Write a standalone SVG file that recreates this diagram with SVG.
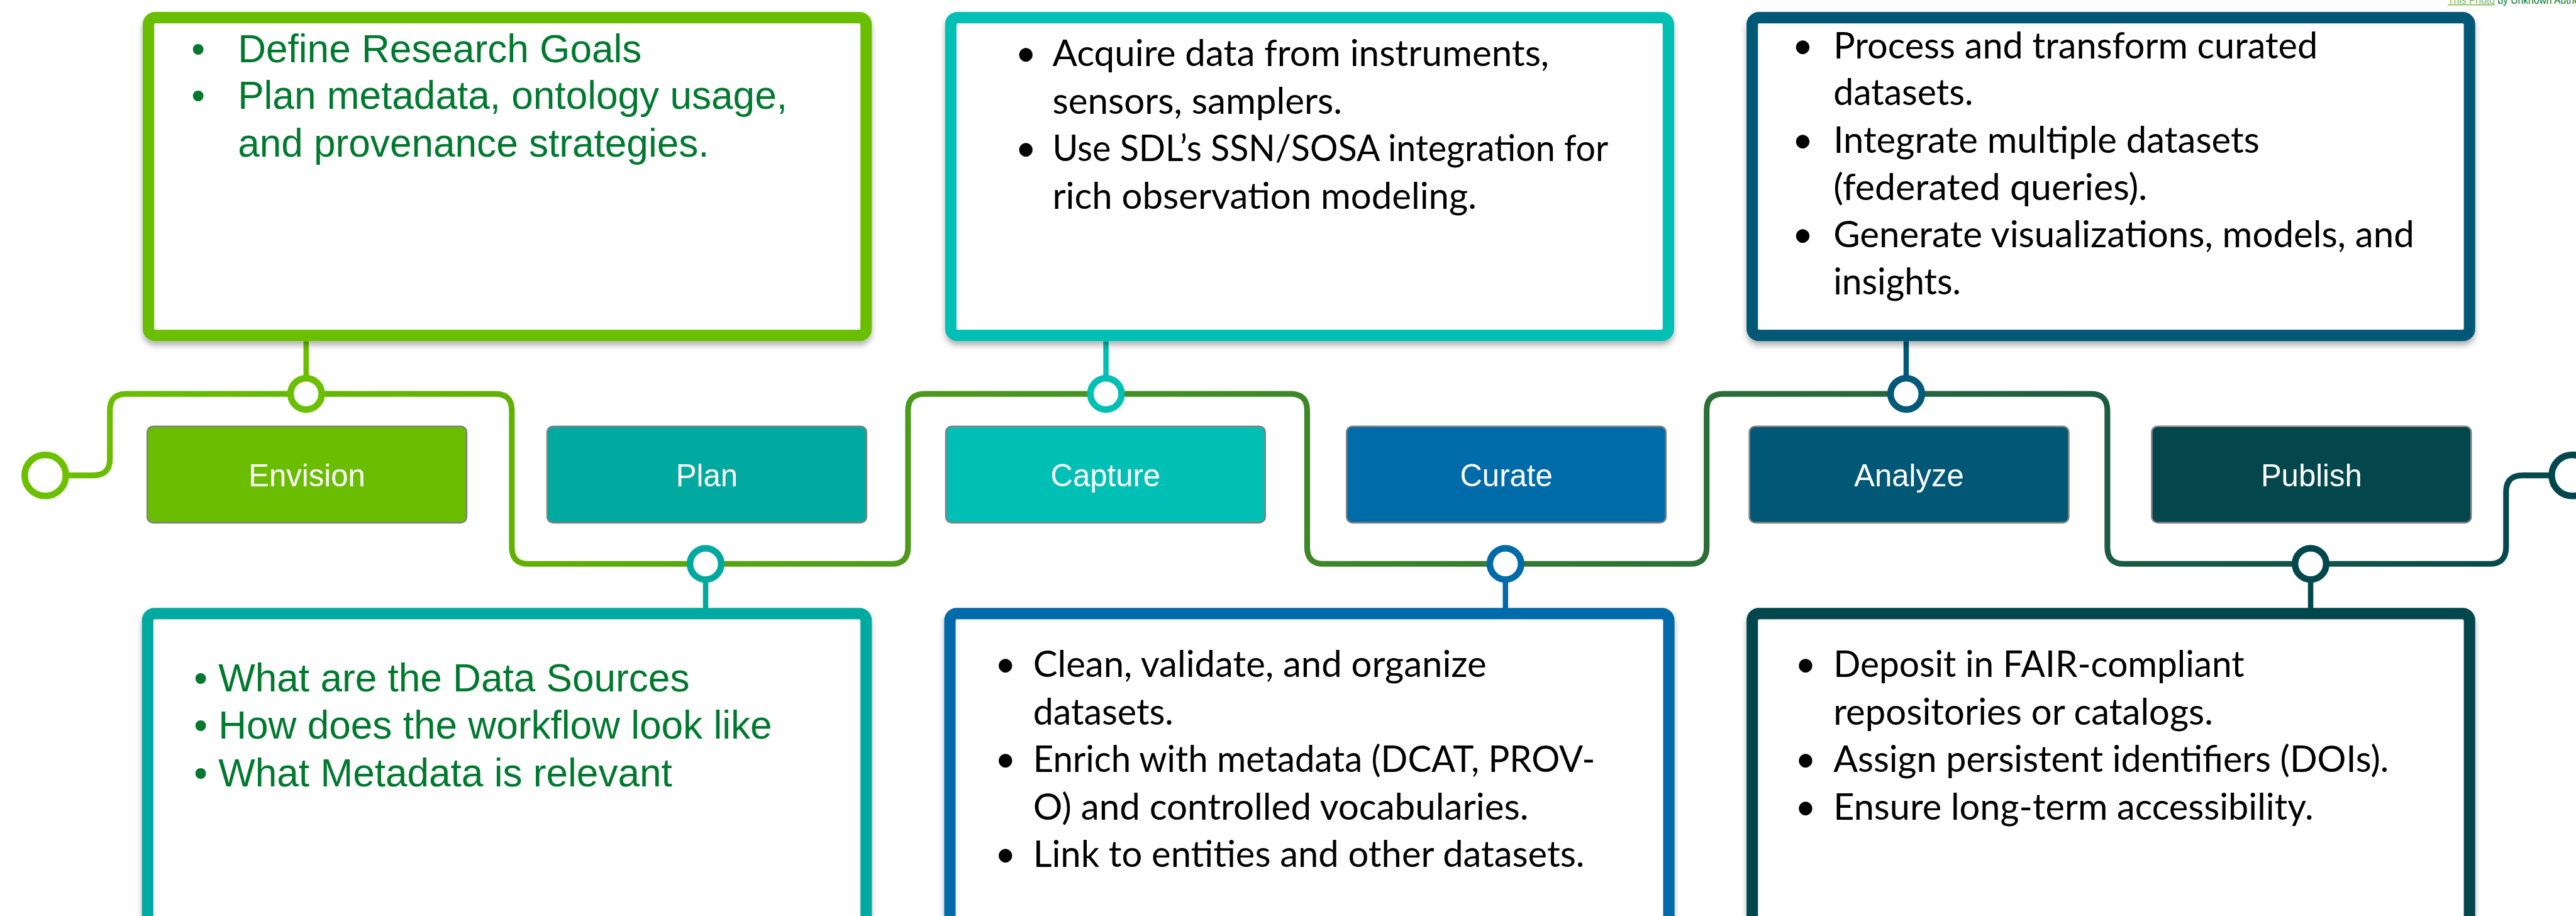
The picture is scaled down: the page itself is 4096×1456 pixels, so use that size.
<svg xmlns="http://www.w3.org/2000/svg" width="4096" height="1456" viewBox="0 0 4096 1456">
<defs>
<linearGradient id="flow" gradientUnits="userSpaceOnUse" x1="0" y1="0" x2="6261" y2="0">
<stop offset="0" stop-color="#6CC000"/>
<stop offset="0.2" stop-color="#62B000"/>
<stop offset="0.35" stop-color="#4E9A1C"/>
<stop offset="0.5" stop-color="#3F8828"/>
<stop offset="0.65" stop-color="#2C7036"/>
<stop offset="0.8" stop-color="#1F5E42"/>
<stop offset="0.92" stop-color="#0E504A"/>
<stop offset="1" stop-color="#03474E"/>
</linearGradient>
<filter id="shadow" x="-5%" y="-5%" width="110%" height="120%">
<feDropShadow dx="0" dy="10" stdDeviation="7" flood-color="#000" flood-opacity="0.3"/>
</filter>
</defs>
<style>
.card{fill:#fff;stroke-width:28;filter:url(#shadow)}
.inner{fill:none;stroke:#fff;stroke-opacity:0.45;stroke-width:5}
.lbl rect{stroke:#808080;stroke-width:4}
.lbl text{font-family:"Liberation Sans",Arial,sans-serif;font-size:75px;fill:#fff;text-anchor:middle}
.ar{font-family:"Liberation Sans",Arial,sans-serif;font-size:95px;fill:#00792F}
.cb{font-family:Lato,"Open Sans",sans-serif;font-size:88px;fill:#000}
.pin{fill:#fff;stroke-width:16}
.stem{stroke-width:13;fill:none}
.attr{font-family:"Liberation Sans",Arial,sans-serif;font-size:24px}
</style>
<rect width="4096" height="1456" fill="#fff"/>
<g transform="scale(0.65421)">
<g id="connectors">
<path d="M160 1155 H227 Q267 1155 267 1115 V997 Q267 957 307 957 H1204 Q1244 957 1244 997 V1330 Q1244 1370 1284 1370 H2167 Q2207 1370 2207 1330 V997 Q2207 957 2247 957 H3137 Q3177 957 3177 997 V1330 Q3177 1370 3217 1370 H4108 Q4148 1370 4148 1330 V997 Q4148 957 4188 957 H5082 Q5122 957 5122 997 V1330 Q5122 1370 5162 1370 H6051 Q6091 1370 6091 1330 V1195 Q6091 1155 6131 1155 H6202" fill="none" stroke="url(#flow)" stroke-width="14"/>
<line class="stem" x1="744" y1="829" x2="744" y2="957" stroke="#6ABF00"/>
<line class="stem" x1="2688" y1="829" x2="2688" y2="957" stroke="#00BFB3"/>
<line class="stem" x1="4633" y1="829" x2="4633" y2="957" stroke="#02597A"/>
<line class="stem" x1="1715" y1="1370" x2="1715" y2="1478" stroke="#00A99F"/>
<line class="stem" x1="3659" y1="1370" x2="3659" y2="1478" stroke="#016AA9"/>
<line class="stem" x1="5616" y1="1370" x2="5616" y2="1478" stroke="#03474E"/>
<circle class="pin" cx="110" cy="1155" r="50" stroke="#6CC000"/>
<circle class="pin" cx="6252" cy="1155" r="50" stroke="#03474E"/>
<circle class="pin" cx="744" cy="957" r="38" stroke="#6ABF00"/>
<circle class="pin" cx="2688" cy="957" r="38" stroke="#00BFB3"/>
<circle class="pin" cx="4633" cy="957" r="38" stroke="#02597A"/>
<circle class="pin" cx="1715" cy="1370" r="38" stroke="#00A99F"/>
<circle class="pin" cx="3659" cy="1370" r="38" stroke="#016AA9"/>
<circle class="pin" cx="5616" cy="1370" r="38" stroke="#03474E"/>
</g>

<g id="envision-card">
<rect class="card" x="361" y="43" width="1744" height="772" rx="16" stroke="#6ABE00"/>
<rect class="inner" x="377" y="59" width="1712" height="740" rx="4"/>
<text class="ar" x="465" y="152">•</text>
<text class="ar" x="578" y="152">Define Research Goals</text>
<text class="ar" x="465" y="265">•</text>
<text class="ar" x="578" y="265">Plan metadata, ontology usage,</text>
<text class="ar" x="578" y="381">and provenance strategies.</text>
</g>

<g id="capture-card">
<rect class="card" x="2311" y="43" width="1744" height="772" rx="16" stroke="#00C0B5"/>
<rect class="inner" x="2327" y="59" width="1712" height="740" rx="4"/>
<text class="cb" x="2468" y="161">•</text>
<text class="cb" x="2558" y="161" textLength="1207" lengthAdjust="spacingAndGlyphs">Acquire data from instruments,</text>
<text class="cb" x="2558" y="277" textLength="704" lengthAdjust="spacingAndGlyphs">sensors, samplers.</text>
<text class="cb" x="2468" y="392">•</text>
<text class="cb" x="2558" y="392" textLength="1351" lengthAdjust="spacingAndGlyphs">Use SDL’s SSN/SOSA integration for</text>
<text class="cb" x="2558" y="508" textLength="1031" lengthAdjust="spacingAndGlyphs">rich observation modeling.</text>
</g>

<g id="analyze-card">
<rect class="card" x="4259" y="43" width="1743" height="772" rx="16" stroke="#025876"/>
<rect class="inner" x="4275" y="59" width="1711" height="740" rx="4"/>
<text class="cb" x="4356" y="142">•</text>
<text class="cb" x="4456" y="142" textLength="1177" lengthAdjust="spacingAndGlyphs">Process and transform curated</text>
<text class="cb" x="4456" y="256" textLength="340" lengthAdjust="spacingAndGlyphs">datasets.</text>
<text class="cb" x="4356" y="371">•</text>
<text class="cb" x="4456" y="371" textLength="1036" lengthAdjust="spacingAndGlyphs">Integrate multiple datasets</text>
<text class="cb" x="4456" y="486" textLength="763" lengthAdjust="spacingAndGlyphs">(federated queries).</text>
<text class="cb" x="4356" y="601">•</text>
<text class="cb" x="4456" y="601" textLength="1412" lengthAdjust="spacingAndGlyphs">Generate visualizations, models, and</text>
<text class="cb" x="4456" y="716" textLength="310" lengthAdjust="spacingAndGlyphs">insights.</text>
</g>

<g id="plan-card">
<rect class="card" x="359" y="1491" width="1746" height="900" rx="16" stroke="#00AAA0"/>
<rect class="inner" x="375" y="1507" width="1714" height="868" rx="4"/>
<text class="ar" x="471" y="1680">• What are the Data Sources</text>
<text class="ar" x="471" y="1795">• How does the workflow look like</text>
<text class="ar" x="471" y="1910">• What Metadata is relevant</text>
</g>

<g id="curate-card">
<rect class="card" x="2309" y="1491" width="1747" height="900" rx="16" stroke="#006BAA"/>
<rect class="inner" x="2325" y="1507" width="1715" height="868" rx="4"/>
<text class="cb" x="2418" y="1644">•</text>
<text class="cb" x="2511" y="1644" textLength="1102" lengthAdjust="spacingAndGlyphs">Clean, validate, and organize</text>
<text class="cb" x="2511" y="1761" textLength="341" lengthAdjust="spacingAndGlyphs">datasets.</text>
<text class="cb" x="2418" y="1876">•</text>
<text class="cb" x="2511" y="1876" textLength="1366" lengthAdjust="spacingAndGlyphs">Enrich with metadata (DCAT, PROV-</text>
<text class="cb" x="2511" y="1991" textLength="1204" lengthAdjust="spacingAndGlyphs">O) and controlled vocabularies.</text>
<text class="cb" x="2418" y="2107">•</text>
<text class="cb" x="2511" y="2107" textLength="1340" lengthAdjust="spacingAndGlyphs">Link to entities and other datasets.</text>
</g>

<g id="publish-card">
<rect class="card" x="4259" y="1491" width="1743" height="900" rx="16" stroke="#03474D"/>
<rect class="inner" x="4275" y="1507" width="1711" height="868" rx="4"/>
<text class="cb" x="4363" y="1644">•</text>
<text class="cb" x="4456" y="1644" textLength="999" lengthAdjust="spacingAndGlyphs">Deposit in FAIR-compliant</text>
<text class="cb" x="4456" y="1761" textLength="923" lengthAdjust="spacingAndGlyphs">repositories or catalogs.</text>
<text class="cb" x="4363" y="1876">•</text>
<text class="cb" x="4456" y="1876" textLength="1350" lengthAdjust="spacingAndGlyphs">Assign persistent identifiers (DOIs).</text>
<text class="cb" x="4363" y="1991">•</text>
<text class="cb" x="4456" y="1991" textLength="1167" lengthAdjust="spacingAndGlyphs">Ensure long-term accessibility.</text>
</g>

<g id="envision" class="lbl"><rect x="358" y="1036" width="776" height="234" rx="14" fill="#6ABD00"/><text x="746" y="1182">Envision</text></g>
<g id="plan" class="lbl"><rect x="1330" y="1036" width="776" height="234" rx="14" fill="#00AAA0"/><text x="1718" y="1182">Plan</text></g>
<g id="capture" class="lbl"><rect x="2299" y="1036" width="776" height="234" rx="14" fill="#00C0B5"/><text x="2687" y="1182">Capture</text></g>
<g id="curate" class="lbl"><rect x="3273" y="1036" width="776" height="234" rx="14" fill="#006BA9"/><text x="3661" y="1182">Curate</text></g>
<g id="analyze" class="lbl"><rect x="4252" y="1036" width="776" height="234" rx="14" fill="#015876"/><text x="4640" y="1182">Analyze</text></g>
<g id="publish" class="lbl"><rect x="5230" y="1036" width="776" height="234" rx="14" fill="#03474D"/><text x="5618" y="1182">Publish</text></g>

<text class="attr" x="5949" y="9"><tspan fill="#7AB648" text-decoration="underline">This Photo</tspan><tspan fill="#00782F"> by Unknown Author</tspan></text>
</g>
</svg>
